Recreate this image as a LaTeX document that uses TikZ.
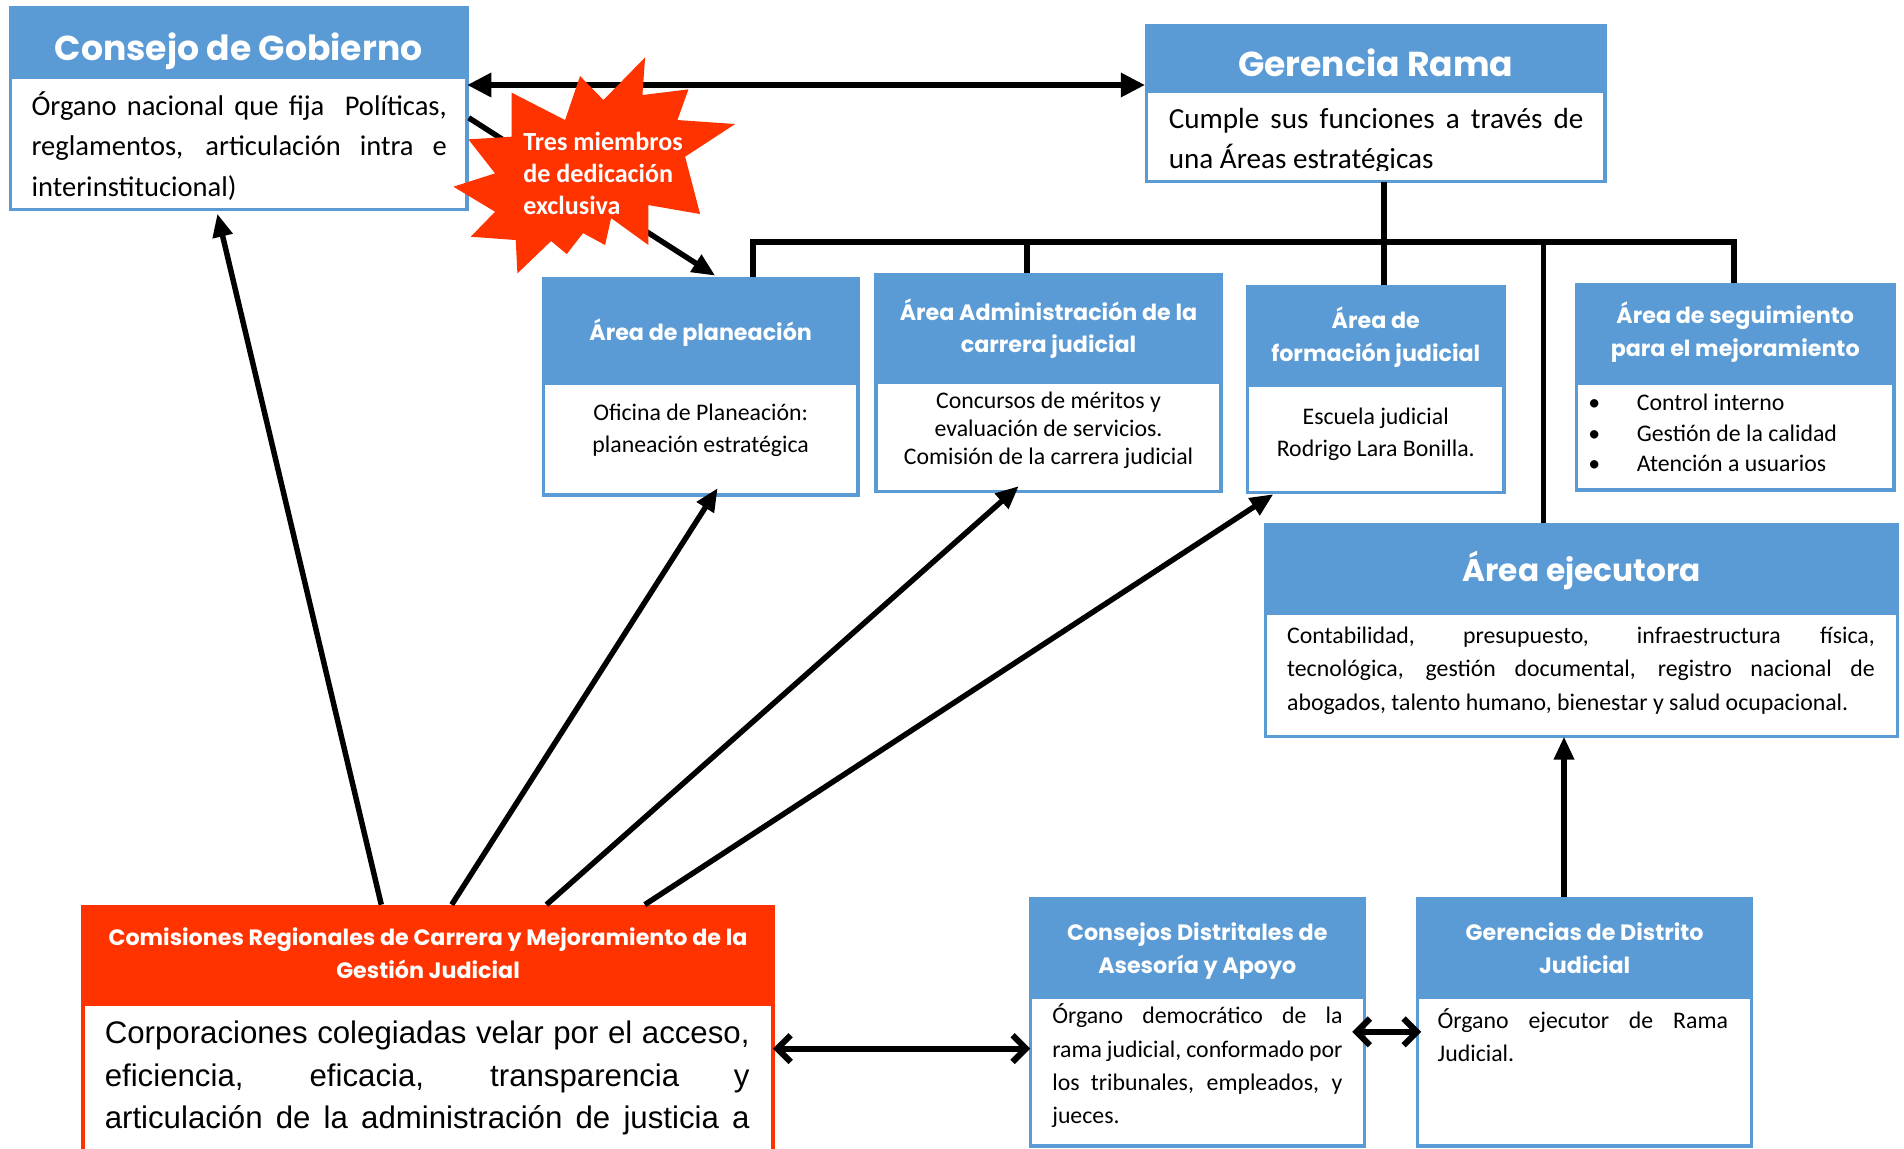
\documentclass[tikz,border=0pt]{standalone}
\usepackage{fontspec}
\setmainfont{Carlito}
\newfontfamily\hfont{Poppins}
\newfontfamily\afont{Liberation Sans}
\usetikzlibrary{arrows.meta,calc}
\definecolor{hblue}{HTML}{5B9BD5}
\definecolor{hred}{HTML}{FF3300}
\newcommand\fs[2]{\fontsize{#1}{#2}\selectfont}
\newcommand\ts{\rule{0pt}{1.1em}}
\newcommand\jl[2]{\makebox[#1][s]{#2}}
\newcommand\obox[7]{%
  \node[hdr, fill=#7, minimum width={#4-#2}, minimum height={#5-#3}] (#1-h) at (#2,#3) {};
  \node[bdy, draw=#7, minimum width={#4-#2-2.8}, minimum height={#6-#5-1.4}] (#1-b) at (#2+1.4,#5) {};
}
\tikzset{
  hdr/.style={rectangle, inner sep=0pt, outer sep=0pt, anchor=north west},
  bdy/.style={rectangle, fill=white, line width=2.8pt, inner sep=0pt, outer sep=0pt, anchor=north west},
  ttl/.style={inner sep=0pt, outer sep=0pt, text=white, align=center},
  bigttl/.style={ttl, font=\hfont\bfseries\fs{28.5}{34}},
  smallttl/.style={ttl, font=\hfont\bfseries\fs{18.3}{27}},
  txt/.style={inner sep=0pt, outer sep=0pt, anchor=north west, align=left},
  ctxt/.style={inner sep=0pt, outer sep=0pt, anchor=north, align=center},
  tree/.style={line width=4.7pt, line join=miter},
  arrT/.style={line width=5.5pt, {Triangle[length=20pt,width=19pt]}-{Triangle[length=20pt,width=19pt]}},
  arr/.style={line width=4.5pt, -{Triangle[length=19pt,width=16pt]}},
  barb/.style={line width=5pt, {Straight Barb[length=11pt,width=22pt]}-{Straight Barb[length=11pt,width=22pt]}},
}
\begin{document}
\begin{tikzpicture}[x=1pt,y=-1pt]
\useasboundingbox (0,0) rectangle (1568,946.2);

% ---------- boxes ----------
\obox{cg}{7}{5}{386}{64}{174}{hblue}
\obox{gr}{943}{20}{1323}{75.5}{151}{hblue}
\obox{ap}{446}{228}{708}{316}{409}{hblue}
\obox{aa}{720}{225}{1007}{314.5}{406}{hblue}
\obox{af}{1026}{235}{1240}{317}{407}{hblue}
\obox{as}{1297}{233}{1561}{316}{405}{hblue}
\obox{ae}{1041}{431}{1564}{505}{608}{hblue}
\obox{cr}{67}{745}{638}{827}{980}{hred}
\obox{cd}{847}{739}{1125}{821}{945}{hblue}
\obox{gd}{1166}{739}{1444}{821}{945}{hblue}

% ---------- titles ----------
\node[bigttl, anchor=base] (cg-t) at (196.5,50) {Consejo de Gobierno};
\node[bigttl, anchor=base] (gr-t) at (1133,62.6) {Gerencia Rama};
\node[smallttl, anchor=base] (ap-t) at (577,280) {Área de planeación};
\node[smallttl, anchor=north] (aa-t) at (863.5,243.5) {\ts Área Administración de la\\carrera judicial};
\node[smallttl, anchor=north] (af-t) at (1133,250.4) {\ts Área de\\formación judicial};
\node[smallttl, anchor=north] (as-t) at (1429,246.2) {\ts Área de seguimiento\\para el mejoramiento};
\node[ttl, font=\hfont\bfseries\fs{25.7}{30}, anchor=base] (ae-t) at (1302.5,479) {Área ejecutora};
\node[smallttl, anchor=north] (cr-t) at (352.5,758.3) {\ts Comisiones Regionales de Carrera y Mejoramiento de la\\Gestión Judicial};
\node[smallttl, anchor=north] (cd-t) at (986,754.2) {\ts Consejos Distritales de\\Asesoría y Apoyo};
\node[smallttl, anchor=north] (gd-t) at (1305,754.2) {\ts Gerencias de Distrito\\Judicial};

% ---------- body texts ----------
\node[txt, font=\fs{23.5}{33.7}] (cg-x) at (26,68.85)
  {\jl{342pt}{\ts Órgano nacional que fija\ \ Políticas,}\\
   \jl{342pt}{reglamentos, articulación intra e}\\
   interinstitucional)};
\begin{scope}
\clip (gr-b.north west) rectangle ($(gr-b.south east)+(0,-9.6)$);
\node[txt, font=\fs{24}{33}] (gr-x) at (962.5,79.3)
  {\jl{341.5pt}{\ts Cumple sus funciones a través de}\\
   una Áreas estratégicas};
\end{scope}
\node[ctxt, font=\fs{19.6}{27}] (ap-x) at (577,324.4)
  {\ts Oficina de Planeación:\\planeación estratégica};
\node[ctxt, font=\fs{19.6}{23}] (aa-x) at (863.5,314.7)
  {\ts Concursos de méritos y\\evaluación de servicios.\\Comisión de la carrera judicial};
\node[ctxt, font=\fs{19.6}{27}] (af-x) at (1133,327.7)
  {\ts Escuela judicial\\Rodrigo Lara Bonilla.};
\node[txt, font=\fs{19.6}{25}] (as-x) at (1308,316.7)
  {\ts\makebox[40pt][l]{•}Control interno\\
   \makebox[40pt][l]{•}Gestión de la calidad\\
   \makebox[40pt][l]{•}Atención a usuarios};
\node[txt, font=\fs{19.6}{27.4}] (ae-x) at (1060,508.4)
  {\jl{484pt}{\ts Contabilidad, presupuesto, infraestructura física,}\\
   \jl{484pt}{tecnológica, gestión documental, registro nacional de}\\
   abogados, talento humano, bienestar y salud ocupacional.};
\node[txt, font=\fs{19.6}{27.5}] (cd-x) at (866.6,821.4)
  {\jl{239pt}{\ts Órgano democrático de la}\\
   \jl{239pt}{rama judicial, conformado por}\\
   \jl{239pt}{los tribunales, empleados, y}\\
   jueces.};
\node[txt, font=\fs{19.6}{27.5}] (gd-x) at (1184,825.4)
  {\jl{239pt}{\ts Órgano ejecutor de Rama}\\
   Judicial.};
\node[txt, font=\afont\fs{25.7}{35}] (cr-x) at (86.3,831.1)
  {\jl{531pt}{\ts Corporaciones colegiadas velar por el acceso,}\\
   \jl{531pt}{eficiencia, eficacia, transparencia y}\\
   \jl{531pt}{articulación de la administración de justicia a}};

% ---------- organisational tree ----------
\coordinate (d1) at (620,199);
\coordinate (d2) at (846,199);
\coordinate (d3) at (1140,199);
\coordinate (d4) at (1271,199);
\coordinate (d5) at (1428,199);
\draw[tree] (ap-h.north -| d1) -- (d1) -- (d5) -- (as-h.north -| d5);
\draw[tree] (d2) -- (aa-h.north -| d2);
\draw[tree] (gr-b.south -| d3) -- (af-h.north -| d3);
\draw[tree] (d4) -- (ae-h.north -| d4);

% ---------- arrows ----------
\coordinate (hy) at (0,70);
\draw[arrT] (cg-b.east |- hy) -- (gr-h.west |- hy);
\draw[arr] ($(cg-b.north east)+(1.4,33)$) -- ($(ap-h.north west)+(143,-1)$);
\draw[arr] ($(cr-h.north west)+(247,0)$) -- ($(cg-b.south west)+(170.6,3.4)$);
\draw[arr] ($(cr-h.north west)+(305,0)$) -- ($(ap-b.south west)+(143.6,-5.6)$);
\draw[arr] ($(cr-h.north west)+(383,0)$) -- ($(aa-b.south west)+(117.6,-4.3)$);
\draw[arr] ($(cr-h.north west)+(464,0)$) -- ($(af-b.south west)+(21.2,1.4)$);
\draw[arr] ($(gd-h.north west)+(122,0)$) -- ($(ae-b.south west)+(245.6,0)$);
\coordinate (by1) at (0,863.5);
\coordinate (by2) at (0,849.8);
\draw[barb] (cr-b.east |- by1) -- (cd-b.west |- by1);
\draw[barb] ($(cd-b.east |- by2)+(-10,0)$) -- ($(gd-b.west |- by2)+(3,0)$);

% ---------- starburst ----------
\begin{scope}[shift={(362.4,32.95)}, scale=0.27457]
\fill[hred] (615,52) -- (607,165) -- (745,148) -- (712,240) -- (885,252) -- (735,350)
  -- (780,522) -- (625,495) -- (625,615) -- (513,534) -- (495,615) -- (429,579)
  -- (380,642) -- (333,603) -- (232,700) -- (227,600) -- (92,590) -- (165,515)
  -- (40,440) -- (165,400) -- (85,298) -- (215,290) -- (215,158) -- (375,240)
  -- (420,108) -- (490,180) -- cycle;
\end{scope}
\node[txt, text=white, font=\bfseries\fs{21.5}{26.5}] (star-t) at (431,100.35)
  {\ts Tres miembros\\de dedicación\\exclusiva};
\end{tikzpicture}
\end{document}
